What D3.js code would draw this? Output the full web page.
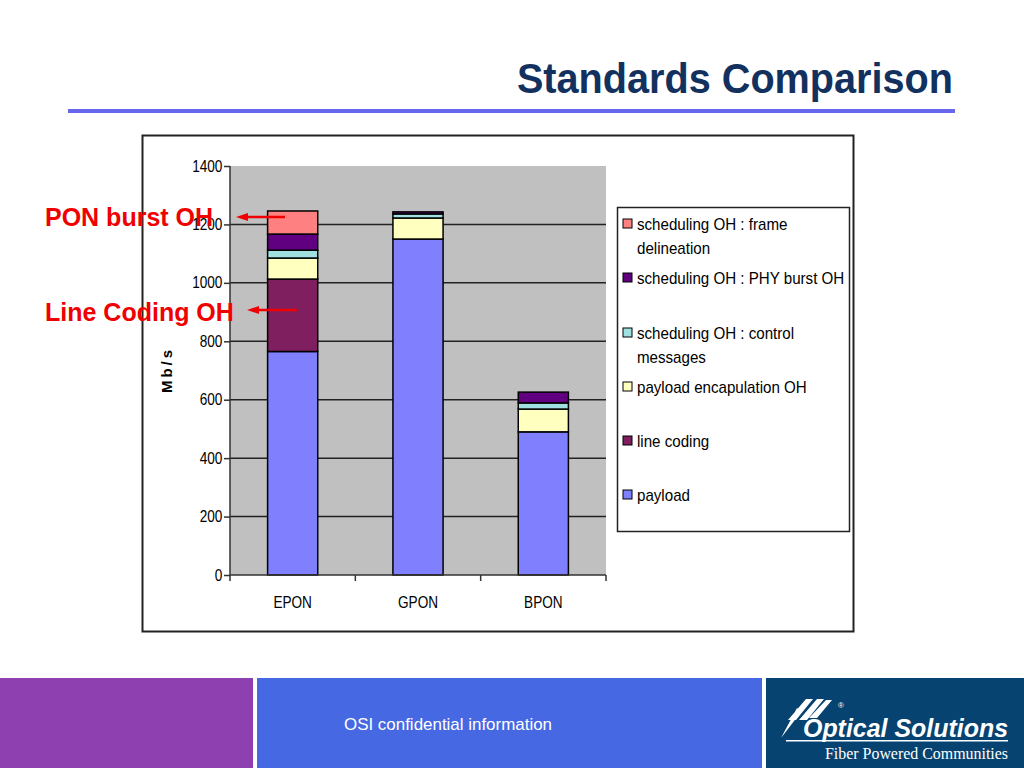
<!DOCTYPE html>
<html><head><meta charset="utf-8">
<script src="https://cdn.jsdelivr.net/npm/d3@7/dist/d3.min.js"></script>
<style>
body{margin:0;background:#fff;}
svg{display:block;}
</style></head>
<body>
<svg id="c" width="1024" height="768"></svg>
<script>
const categories = ["EPON", "GPON", "BPON"];
const seriesNames = ["payload", "line coding", "payload encapulation OH", "scheduling OH : control messages", "scheduling OH : PHY burst OH", "scheduling OH : frame delineation"];
const payload      = [765, 1150, 490];
const lineCoding   = [248, 0, 0];
const encapOH      = [72, 72, 78];
const controlMsg   = [27, 14, 21];
const phyBurst     = [55, 7, 37];
const frameDelin   = [79, 0, 0];
const yTicks = [0, 200, 400, 600, 800, 1000, 1200, 1400];
const colors = ["#8080FF", "#7F1F5F", "#FFFFC0", "#A0E0E0", "#600080", "#FF8080"];

const seriesValues = [payload, lineCoding, encapOH, controlMsg, phyBurst, frameDelin];
const rows = categories.map((c, i) => {
  const r = {cat: c};
  seriesNames.forEach((s, j) => r[s] = seriesValues[j][i]);
  return r;
});

const svg = d3.select("#c");
const sans = "Arial, 'Liberation Sans', sans-serif";

// Title
svg.append("text").attr("transform", "translate(953,93) scale(0.944,1)").attr("text-anchor", "end")
  .attr("font-family", sans).attr("font-weight", "bold")
  .attr("font-size", 42).attr("fill", "#13315F").text("Standards Comparison");
svg.append("rect").attr("x", 68).attr("y", 109).attr("width", 887).attr("height", 4).attr("fill", "#6666EE");

// Chart frame
svg.append("rect").attr("x", 142.5).attr("y", 135.5).attr("width", 711).attr("height", 496)
  .attr("fill", "#fff").attr("stroke", "#222").attr("stroke-width", 2);

const x = d3.scaleBand().domain(categories).range([230, 606]).paddingInner(0.6).paddingOuter(0.3);
const y = d3.scaleLinear().domain([0, 1400]).range([575, 166]);

svg.append("rect").attr("x", 230).attr("y", y(1400)).attr("width", 376).attr("height", y(0) - y(1400)).attr("fill", "#C0C0C0");

// gridlines
svg.append("g").selectAll("line").data(yTicks.filter(t => t > 0 && t < 1400)).join("line")
  .attr("x1", 230).attr("x2", 606).attr("y1", d => y(d)).attr("y2", d => y(d))
  .attr("stroke", "#222").attr("stroke-width", 1.5);

// stacked bars
const stack = d3.stack().keys(seriesNames)(rows);
svg.append("g").selectAll("g").data(stack).join("g").attr("fill", (d, i) => colors[i])
  .selectAll("rect").data(d => d.filter(p => p[1] - p[0] > 0)).join("rect")
  .attr("x", d => x(d.data.cat)).attr("width", x.bandwidth())
  .attr("y", d => y(d[1])).attr("height", d => y(d[0]) - y(d[1]))
  .attr("stroke", "#000").attr("stroke-width", 1.5);

// axes
const yAxis = svg.append("g").attr("transform", "translate(230,0)")
  .call(d3.axisLeft(y).tickValues(yTicks).tickSize(6).tickPadding(3).tickFormat(d3.format("d")));
yAxis.selectAll("text").attr("font-family", sans).attr("font-size", 16).attr("fill", "#000")
  .attr("transform", "scale(0.85,1)");
yAxis.selectAll("line,path").attr("stroke", "#333").attr("stroke-width", 1.5);
yAxis.select(".domain").attr("d", "M0,166V575");

const xAxis = svg.append("g").attr("transform", "translate(0,575)")
  .call(d3.axisBottom(x).tickSize(0).tickPadding(22));
xAxis.select(".domain").attr("stroke", "#333").attr("stroke-width", 1.5).attr("d", "M230,0H606");
xAxis.selectAll("text").attr("font-family", sans).attr("font-size", 16).attr("fill", "#000")
  .attr("transform", "scale(0.85,1)");
// category boundary ticks
const bounds = [230, 230 + 376/3, 230 + 2*376/3, 606];
svg.append("g").selectAll("line").data(bounds).join("line")
  .attr("x1", d => d).attr("x2", d => d).attr("y1", 575).attr("y2", 581)
  .attr("stroke", "#333").attr("stroke-width", 1.5);

// y axis title
svg.append("text").attr("transform", "translate(172,370) rotate(-90)").attr("text-anchor", "middle")
  .attr("font-family", sans).attr("font-weight", "bold").attr("font-size", 15)
  .attr("letter-spacing", 3).attr("fill", "#000").text("Mb/s");

// legend
svg.append("rect").attr("x", 617.5).attr("y", 207.5).attr("width", 232).attr("height", 324)
  .attr("fill", "#fff").attr("stroke", "#222").attr("stroke-width", 1.5);
const legendItems = [
  {i: 5, lines: ["scheduling OH : frame", "delineation"], y: 224},
  {i: 4, lines: ["scheduling OH : PHY burst OH"], y: 278},
  {i: 3, lines: ["scheduling OH : control", "messages"], y: 333},
  {i: 2, lines: ["payload encapulation OH"], y: 387},
  {i: 1, lines: ["line coding"], y: 441},
  {i: 0, lines: ["payload"], y: 495}
];
const lg = svg.append("g").selectAll("g").data(legendItems).join("g");
lg.append("rect").attr("x", 623).attr("y", d => d.y - 5).attr("width", 9).attr("height", 9)
  .attr("fill", d => colors[d.i]).attr("stroke", "#000").attr("stroke-width", 1);
lg.append("text").attr("font-family", sans).attr("font-size", 17).attr("fill", "#000")
  .attr("transform", d => `translate(637,${d.y + 6}) scale(0.89,1)`)
  .selectAll("tspan").data(d => d.lines.map((l, k) => ({l, k}))).join("tspan")
  .attr("x", 0).attr("y", d => d.k * 24).text(d => d.l);

// annotations
const red = "#F00000";
const ann = [
  {t: "PON burst OH", x: 45, y: 226, ax1: 285, ax2: 236, ay: 217},
  {t: "Line Coding OH", x: 45, y: 321, ax1: 297, ax2: 247, ay: 310}
];
ann.forEach(a => {
  svg.append("line").attr("x1", a.ax1).attr("x2", a.ax2 + 8).attr("y1", a.ay).attr("y2", a.ay)
    .attr("stroke", red).attr("stroke-width", 2.5);
  svg.append("path").attr("d", `M${a.ax2},${a.ay}L${a.ax2 + 12},${a.ay - 4}L${a.ax2 + 12},${a.ay + 4}Z`).attr("fill", red);
  svg.append("text").attr("x", a.x).attr("y", a.y).attr("font-family", sans)
    .attr("font-weight", "bold").attr("font-size", 25).attr("fill", red).text(a.t);
});

// footer
svg.append("rect").attr("x", 0).attr("y", 678).attr("width", 253).attr("height", 90).attr("fill", "#8F40B0");
svg.append("rect").attr("x", 257).attr("y", 678).attr("width", 505).attr("height", 90).attr("fill", "#4668E3");
svg.append("rect").attr("x", 766).attr("y", 678).attr("width", 258).attr("height", 90).attr("fill", "#074370");
svg.append("text").attr("x", 448).attr("y", 730).attr("text-anchor", "middle")
  .attr("font-family", sans).attr("font-size", 17).attr("fill", "#fff")
  .attr("textLength", 208).attr("lengthAdjust", "spacingAndGlyphs").text("OSI confidential information");
// logo
const logo = svg.append("g");
logo.append("path").attr("d", "M788,720 L806,699 L813,699 L796,720 Z M799,720 L817,699 L824,699 L807,720 Z M809,718 L826,700 L832,700 L817,718 Z M781,738 L797,708 L801,712 Z")
  .attr("fill", "#fff");
logo.append("text").attr("x", 803).attr("y", 737)
  .attr("font-family", sans).attr("font-style", "italic").attr("font-weight", "bold")
  .attr("font-size", 26).attr("fill", "#fff")
  .attr("textLength", 205).attr("lengthAdjust", "spacingAndGlyphs").text("Optical Solutions");
logo.append("rect").attr("x", 786).attr("y", 740).attr("width", 222).attr("height", 1.5).attr("fill", "#fff");
logo.append("text").attr("x", 825).attr("y", 759)
  .attr("font-family", "'Liberation Serif', 'DejaVu Serif', serif").attr("font-size", 16).attr("fill", "#fff")
  .attr("textLength", 183).attr("lengthAdjust", "spacingAndGlyphs").text("Fiber Powered Communities");
logo.append("text").attr("x", 838).attr("y", 708).attr("font-family", sans).attr("font-size", 8).attr("fill", "#fff").text("®");
</script>
</body></html>
